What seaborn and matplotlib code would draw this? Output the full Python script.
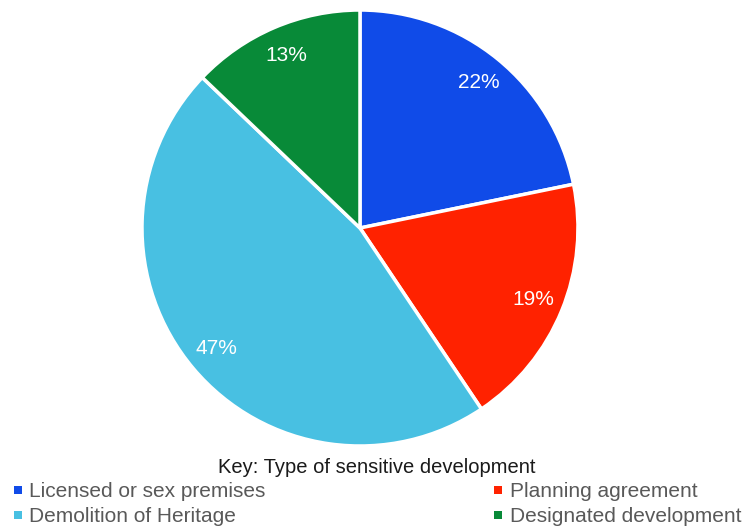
import matplotlib
matplotlib.use("Agg")
import matplotlib.pyplot as plt
from matplotlib.lines import Line2D
import seaborn as sns

sns.set_theme(style="white")
plt.rcParams["font.family"] = ["Liberation Sans", "DejaVu Sans"]

categories = ["Licensed or sex premises", "Planning agreement",
              "Demolition of Heritage", "Designated development"]
values = [22, 19, 47, 13]
colors = ["#104BE8", "#FF2200", "#48C0E2", "#088A38"]
legend_title = "Key: Type of sensitive development"

fig = plt.figure(figsize=(7.45, 5.27), dpi=100)
ax = fig.add_axes([0.1906, 0.1537, 0.5852, 0.8273])

wedges, texts = ax.pie(
    values,
    colors=colors,
    startangle=90,
    counterclock=False,
    labels=[f"{v}%" for v in values],
    labeldistance=0.86,
    wedgeprops=dict(edgecolor="white", linewidth=2.5),
    textprops=dict(color="white", fontsize=15, ha="center", va="center"),
)
ax.set_xlim(-1, 1)
ax.set_ylim(-1, 1)
ax.set_aspect("equal")

# two-column key: left column then right column
order = [0, 2, 1, 3]
handles = [Line2D([], [], marker="s", linestyle="none", markersize=5.5,
                  markerfacecolor=colors[i], markeredgewidth=0) for i in order]
leg = fig.legend(handles, [categories[i] for i in order], ncol=2,
                 loc="lower center", bbox_to_anchor=(0.506, -0.026),
                 frameon=False, fontsize=15, title=legend_title,
                 title_fontsize=14.5, columnspacing=10.9, handlelength=0.5,
                 handletextpad=0.3, labelspacing=0.27, borderpad=0.2)
for t in leg.get_texts():
    t.set_color("#595959")
leg.get_title().set_color("#1a1a1a")

fig.savefig("out.png", dpi=100)
